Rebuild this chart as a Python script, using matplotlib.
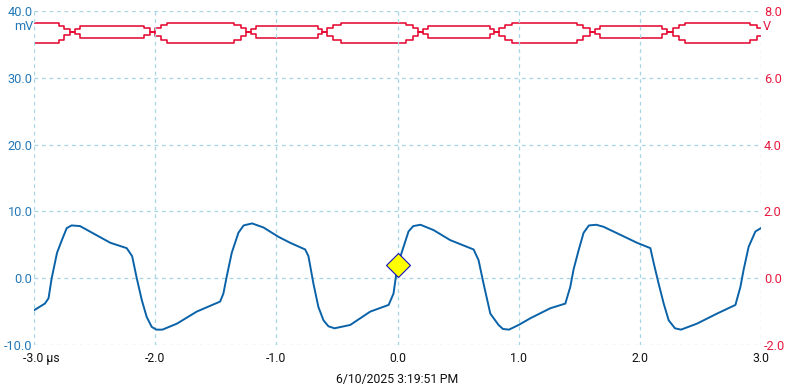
import numpy as np
import matplotlib
matplotlib.use("Agg")
import matplotlib.pyplot as plt
import matplotlib.transforms as mtransforms

plt.rcParams['font.family'] = ['Roboto', 'DejaVu Sans']

# blue channel (mV), time in microseconds
blue_t = [-3.00, -2.91, -2.88, -2.854, -2.81, -2.77, -2.73, -2.69, -2.62, -2.54, -2.37,
          -2.235, -2.19, -2.152, -2.11, -2.07, -2.028, -1.99, -1.94, -1.82, -1.657, -1.464,
          -1.437, -1.409, -1.368, -1.313, -1.27, -1.20, -1.107, -0.983, -0.886, -0.762, -0.735,
          -0.694, -0.653, -0.611, -0.57, -0.52, -0.39, -0.225, -0.073, -0.033, 0.0, 0.05,
          0.091, 0.13, 0.19, 0.298, 0.435, 0.628, 0.669, 0.71, 0.766, 0.834, 0.87, 0.92,
          1.0, 1.096, 1.261, 1.385, 1.426, 1.453, 1.495, 1.536, 1.58, 1.64, 1.70,
          1.839, 1.977, 2.087, 2.114, 2.155, 2.197, 2.238, 2.29, 2.34, 2.472, 2.637,
          2.789, 2.83, 2.857, 2.898, 2.954, 3.00]
blue_v = [-4.8, -3.8, -3.0, 0.0, 3.8, 5.7, 7.5, 7.9, 7.8, 7.0, 5.3,
          4.5, 3.3, 0.0, -3.3, -5.8, -7.3, -7.7, -7.7, -6.8, -5.0, -3.5,
          -2.3, 0.3, 3.8, 6.8, 7.9, 8.2, 7.6, 6.2, 5.3, 4.3, 3.3,
          -0.8, -4.3, -6.3, -7.2, -7.5, -7.0, -5.0, -4.0, -2.3, 1.9, 4.7,
          7.0, 7.8, 8.0, 7.2, 5.7, 4.3, 2.7, -0.8, -5.3, -7.0, -7.6, -7.7,
          -7.0, -6.0, -4.5, -3.8, -1.3, 1.3, 4.2, 6.8, 7.9, 8.0, 7.7,
          6.5, 5.3, 4.5, 2.3, -0.8, -3.8, -6.3, -7.5, -7.7, -6.8, -5.3,
          -4.0, -1.3, 1.3, 4.7, 7.0, 7.5]

# red channel (V): upper and lower envelope of the two crossing traces
red_t = [-3.00, -2.80, -2.78, -2.72, -2.68, -2.64, -2.60, -2.12, -2.07, -2.02,
         -1.98, -1.93, -1.88, -1.38, -1.32, -1.27, -1.23, -1.19, -1.15, -0.68,
         -0.64, -0.60, -0.56, -0.50, -0.44, 0.04, 0.10, 0.15, 0.19, 0.23,
         0.27, 0.74, 0.78, 0.82, 0.86, 0.92, 0.97, 1.45, 1.51, 1.56,
         1.61, 1.65, 1.69, 2.16, 2.20, 2.25, 2.29, 2.35, 2.40, 2.88,
         2.94, 3.00]
red_hi = [7.64, 7.64, 7.56, 7.45, 7.38, 7.46, 7.55, 7.55, 7.48, 7.38,
          7.50, 7.58, 7.65, 7.65, 7.58, 7.48, 7.38, 7.46, 7.55, 7.55,
          7.46, 7.38, 7.50, 7.58, 7.65, 7.65, 7.58, 7.48, 7.38, 7.46,
          7.55, 7.55, 7.46, 7.38, 7.50, 7.58, 7.65, 7.65, 7.58, 7.48,
          7.38, 7.46, 7.55, 7.55, 7.46, 7.38, 7.50, 7.58, 7.65, 7.65,
          7.58, 7.50]
red_lo = [7.04, 7.04, 7.12, 7.28, 7.38, 7.30, 7.20, 7.20, 7.28, 7.38,
          7.26, 7.14, 7.04, 7.04, 7.14, 7.26, 7.38, 7.30, 7.20, 7.20,
          7.30, 7.38, 7.26, 7.14, 7.04, 7.04, 7.14, 7.26, 7.38, 7.30,
          7.20, 7.20, 7.30, 7.38, 7.26, 7.14, 7.04, 7.04, 7.14, 7.26,
          7.38, 7.30, 7.20, 7.20, 7.30, 7.38, 7.26, 7.14, 7.04, 7.04,
          7.14, 7.24]

trigger_t, trigger_v = 0.0, 2.0

x_ticks = [-3.0, -2.0, -1.0, 0.0, 1.0, 2.0, 3.0]
x_labels = ['-3.0 µs', '-2.0', '-1.0', '0.0', '1.0', '2.0', '3.0']
left_ticks = [-10, 0, 10, 20, 30, 40]
right_ticks = [-2, 0, 2, 4, 6, 8]
timestamp = '6/10/2025 3:19:51\u202fPM'

blue = '#0a62a8'
blue_lbl = '#2478b8'
red = '#e6002b'
red_lbl = '#e6193e'
grid_col = '#a6d6e3'

fig = plt.figure(figsize=(7.95, 3.85), dpi=100)
ax = fig.add_axes([34/795, 1 - 345/385, (761 - 34)/795, (345 - 11)/385])
ax2 = ax.twinx()

ax.set_xlim(-3, 3)
ax.set_ylim(-10, 40)
ax2.set_ylim(-2, 8)

ax.grid(True, color=grid_col, linestyle=(0, (3, 3)), linewidth=0.9)
ax.set_axisbelow(True)
for a in (ax, ax2):
    for s in a.spines.values():
        s.set_visible(False)

ax.set_xticks(x_ticks)
ax.set_xticklabels(x_labels)
ax.set_yticks(left_ticks)
ax.set_yticklabels(['%.1f' % v for v in left_ticks])
ax2.set_yticks(right_ticks)
ax2.set_yticklabels(['%.1f' % v for v in right_ticks])

ax.tick_params(axis='x', length=0, pad=5, labelsize=8.8, labelcolor='#111111')
ax.tick_params(axis='y', length=0, pad=1, labelsize=9.2, labelcolor=blue_lbl)
ax2.tick_params(axis='y', length=0, pad=2, labelsize=9.2, labelcolor=red_lbl)

# first x label starts left of its tick
lbl0 = ax.get_xticklabels()[0]
lbl0.set_horizontalalignment('left')
lbl0.set_transform(lbl0.get_transform() + mtransforms.ScaledTranslation(-11/100, 0, fig.dpi_scale_trans))

ax2.plot(red_t, red_hi, color=red, lw=1.1, drawstyle='steps-mid')
ax2.plot(red_t, red_lo, color=red, lw=1.1, drawstyle='steps-mid')
ax.plot(blue_t, blue_v, color=blue, lw=1.4)
ax.plot([trigger_t], [trigger_v], marker='D', markersize=12, markerfacecolor='#ffff00',
        markeredgecolor='#1010c0', markeredgewidth=0.8, zorder=5)
ax.set_zorder(ax2.get_zorder() + 1)
ax.patch.set_visible(False)

fig.text(33/795, 1 - 27/385, 'mV', ha='right', va='center', fontsize=9.2, color=blue_lbl)
fig.text(763/795, 1 - 27/385, 'V', ha='left', va='center', fontsize=9.2, color=red_lbl)
ax.set_xlabel(timestamp, fontsize=8.8, color='#111111', labelpad=6)

fig.savefig('out.png', dpi=100)
